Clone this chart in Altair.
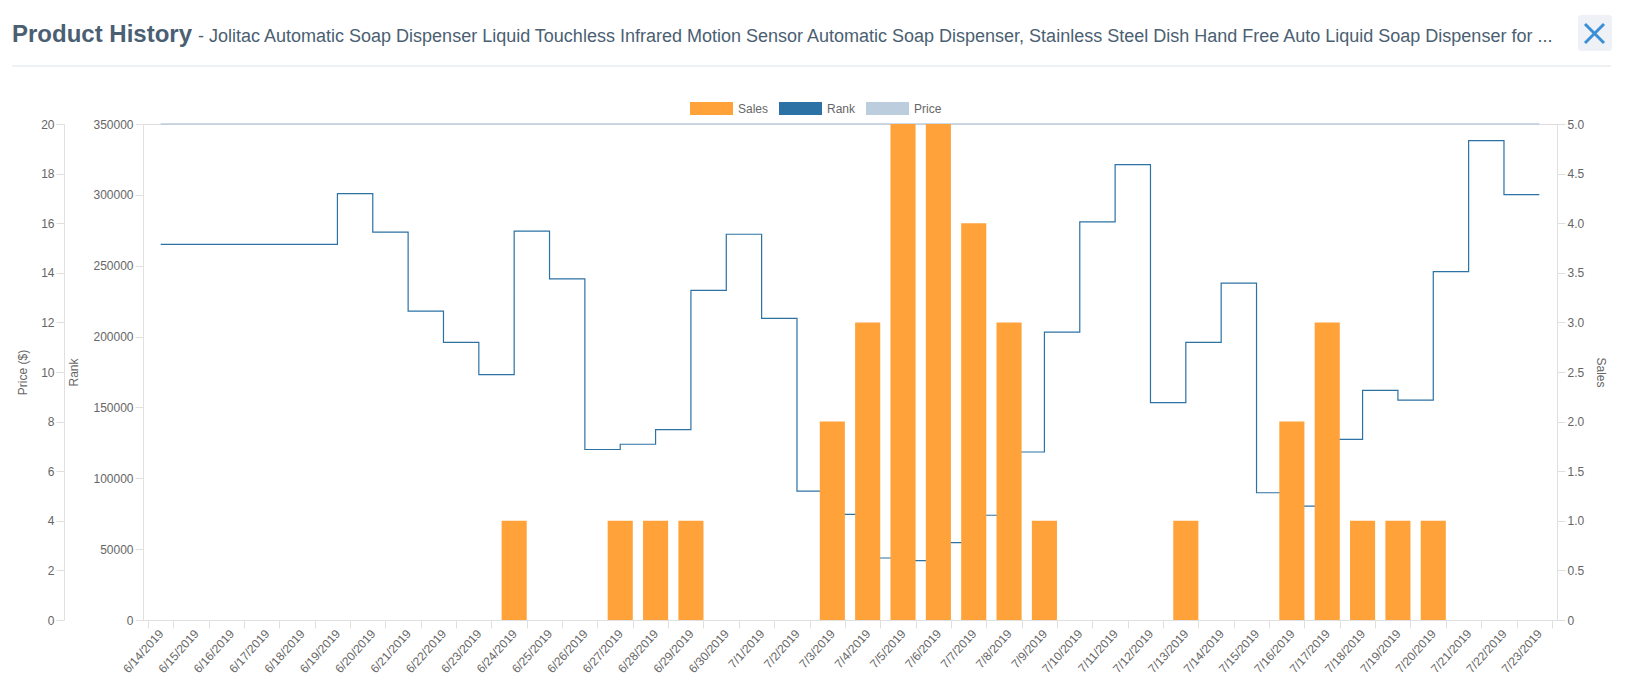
import altair as alt
import pandas as pd

# ---------------- data ----------------
dates = ["6/14/2019", "6/15/2019", "6/16/2019", "6/17/2019", "6/18/2019", "6/19/2019",
         "6/20/2019", "6/21/2019", "6/22/2019", "6/23/2019", "6/24/2019", "6/25/2019",
         "6/26/2019", "6/27/2019", "6/28/2019", "6/29/2019", "6/30/2019", "7/1/2019",
         "7/2/2019", "7/3/2019", "7/4/2019", "7/5/2019", "7/6/2019", "7/7/2019",
         "7/8/2019", "7/9/2019", "7/10/2019", "7/11/2019", "7/12/2019", "7/13/2019",
         "7/14/2019", "7/15/2019", "7/16/2019", "7/17/2019", "7/18/2019", "7/19/2019",
         "7/20/2019", "7/21/2019", "7/22/2019", "7/23/2019"]
sales = [0, 0, 0, 0, 0, 0, 0, 0, 0, 0, 1, 0, 0, 1, 1, 1, 0, 0, 0, 2,
         3, 5, 5, 4, 3, 1, 0, 0, 0, 1, 0, 0, 2, 3, 1, 1, 1, 0, 0, 0]
rank = [265000, 265000, 265000, 265000, 265000, 300800, 273700, 217900, 195900, 173200,
        274400, 240700, 120300, 124000, 134300, 232600, 272200, 212800, 91000, 74600,
        43750, 41850, 54550, 73900, 118550, 203200, 281000, 321400, 153400, 195900,
        237700, 89800, 80400, 127500, 162100, 155200, 245800, 338200, 300100, 300100]
price = [20, 20, 20, 20, 20, 20, 20, 20, 20, 20, 20, 20, 20, 20, 20, 20, 20, 20, 20, 20,
         20, 20, 20, 20, 20, 20, 20, 20, 20, 20, 20, 20, 20, 20, 20, 20, 20, 20, 20, 20]
series = ["Sales", "Rank", "Price"]

title_main = "Product History"
title_sub = ("- Jolitac Automatic Soap Dispenser Liquid Touchless Infrared Motion Sensor "
             "Automatic Soap Dispenser, Stainless Steel Dish Hand Free Auto Liquid Soap Dispenser for ...")

# ---------------- style ----------------
ORANGE = "#ffa23a"
BLUE = "#2c72a4"
LIGHT = "#bccddd"
GRID = "#e0e0e0"
TXT = "#666666"
FONT = "Liberation Sans"

PL, PT = 143, 124          # plot origin in page pixels
W, H = 1414, 496

df = pd.DataFrame({"date": dates, "sales": sales, "rank": rank, "price": price})
df["series"] = "Sales"

base = alt.Chart(df)

xenc = alt.X(
    "date:O", sort=None,
    scale=alt.Scale(paddingInner=0.29, paddingOuter=0.145),
    axis=alt.Axis(title=None, labelAngle=-48, labelAlign="right", labelBaseline="middle",
                  tickBand="extent", tickSize=8, labelPadding=3, domainColor=GRID,
                  tickColor=GRID, labelColor=TXT, labelFontSize=12, labelFont=FONT,
                  grid=False, labelOverlap=False),
)

def yaxis(title, orient, values, offset, fmt_expr, title_pad):
    return alt.Axis(title=title, orient=orient, values=values, offset=offset,
                    labelExpr=fmt_expr, grid=False, domainColor=GRID, tickColor=GRID,
                    tickSize=8, labelPadding=2, labelColor=TXT, labelFontSize=12,
                    labelFont=FONT, titleColor=TXT, titleFontSize=12, titleFont=FONT,
                    titleFontWeight="normal", titlePadding=title_pad)

price_line = base.mark_line(color=LIGHT, strokeWidth=1.5).encode(
    x=xenc,
    y=alt.Y("price:Q", scale=alt.Scale(domain=[0, 20], nice=False),
            axis=yaxis("Price ($)", "left", list(range(0, 21, 2)), 79,
                       "format(datum.value, 'd')", 11)),
)

rank_line = base.mark_line(color=BLUE, strokeWidth=1.2, interpolate="step-after").encode(
    x=xenc,
    y=alt.Y("rank:Q", scale=alt.Scale(domain=[0, 350000], nice=False),
            axis=yaxis("Rank", "left", list(range(0, 350001, 50000)), 0,
                       "format(datum.value, 'd')", 12)),
)

bars = base.mark_bar(opacity=1).encode(
    x=xenc,
    y=alt.Y("sales:Q", scale=alt.Scale(domain=[0, 5], nice=False),
            axis=yaxis("Sales", "right", [i * 0.5 for i in range(11)], 0,
                       "datum.value == 0 ? '0' : format(datum.value, '.1f')", 10)),
    color=alt.Color("series:N",
                    scale=alt.Scale(domain=series, range=[ORANGE, BLUE, LIGHT]),
                    legend=alt.Legend(title=None, orient="none", legendX=547, legendY=-37,
                                      direction="horizontal",
                                      symbolType="M-1,-0.3H1V0.3H-1Z", symbolSize=1849,
                                      symbolStrokeWidth=0, labelFontSize=12,
                                      labelColor=TXT, labelFont=FONT, labelOffset=5,
                                      columnPadding=10)),
)

# ---------------- header decoration ----------------
one = pd.DataFrame({"a": [title_main], "b": [title_sub]})
hdr = alt.Chart(one)

t_main = hdr.mark_text(align="left", baseline="alphabetic", fontSize=24, fontWeight="bold",
                       font=FONT, color="#4a6072").encode(
    text="a:N", x=alt.value(12 - PL), y=alt.value(42 - PT))
t_sub = hdr.mark_text(align="left", baseline="alphabetic", fontSize=18, font=FONT,
                      color="#4a6072").encode(
    text="b:N", x=alt.value(198 - PL), y=alt.value(42 - PT))
divider = hdr.mark_rule(color="#dfe4ea", strokeWidth=1).encode(
    x=alt.value(12 - PL), x2=alt.value(1611 - PL), y=alt.value(66 - PT))
btn = hdr.mark_rect(fill="#eef2f7", cornerRadius=3).encode(
    x=alt.value(1578 - PL), x2=alt.value(1612 - PL), y=alt.value(15 - PT), y2=alt.value(51 - PT))
x1 = hdr.mark_rule(color="#3a8fd6", strokeWidth=3).encode(
    x=alt.value(1585 - PL), x2=alt.value(1604 - PL), y=alt.value(24 - PT), y2=alt.value(43 - PT))
x2 = hdr.mark_rule(color="#3a8fd6", strokeWidth=3).encode(
    x=alt.value(1604 - PL), x2=alt.value(1585 - PL), y=alt.value(24 - PT), y2=alt.value(43 - PT))

chart = alt.layer(
    price_line, rank_line, bars, t_main, t_sub, divider, btn, x1, x2
).resolve_scale(y="independent").properties(
    width=W, height=H,
    autosize=alt.AutoSizeParams(type="none"),
    padding={"left": PL, "top": PT, "right": 1632 - PL - W, "bottom": 698 - PT - H},
).configure_view(stroke=None).configure(background="white")

chart.save("out.html", embed_options={"renderer": "svg", "actions": False})
